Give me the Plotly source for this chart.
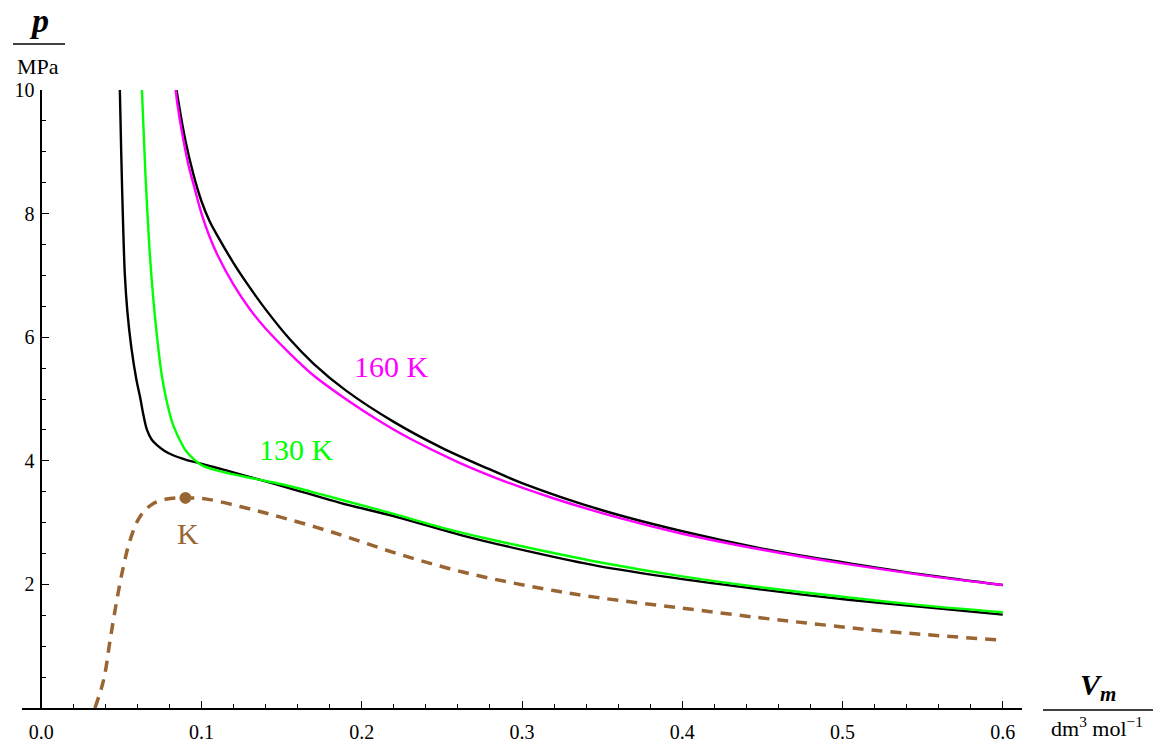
import plotly.graph_objects as go

# Nitrogen isotherms, p in MPa vs molar volume in dm^3/mol
# measured isotherm at 130 K (black)
v_real_130 = [0.0488, 0.0499, 0.0509, 0.0522, 0.0538, 0.0562, 0.0594, 0.0617, 0.0637, 0.0660,
              0.0690, 0.0724, 0.0770, 0.0823, 0.0900, 0.0973, 0.1060, 0.1160, 0.1300, 0.1450,
              0.1650, 0.1865, 0.2220, 0.2630, 0.3050, 0.3470, 0.3990, 0.4485, 0.4900, 0.5310,
              0.6000]
p_real_130 = [10.30, 9.00, 8.00, 7.00, 6.40, 5.84, 5.31, 5.03, 4.75, 4.50,
              4.34, 4.25, 4.16, 4.09, 4.02, 3.97, 3.91, 3.84, 3.74, 3.63,
              3.48, 3.32, 3.09, 2.79, 2.53, 2.30, 2.09, 1.92, 1.79, 1.68,
              1.51]

# measured isotherm at 160 K (black)
v_real_160 = [0.0830, 0.0860, 0.0900, 0.0950, 0.1000, 0.1050, 0.1100, 0.1200, 0.1300, 0.1400,
              0.1550, 0.1700, 0.1900, 0.2200, 0.2500, 0.2800, 0.3000, 0.3500, 0.4000, 0.4500,
              0.5000, 0.5500, 0.6000]
p_real_160 = [10.25, 9.75, 9.18, 8.63, 8.20, 7.88, 7.64, 7.20, 6.81, 6.45,
              5.97, 5.57, 5.14, 4.63, 4.21, 3.86, 3.64, 3.20, 2.86, 2.58,
              2.36, 2.16, 1.99]

# van der Waals isotherm at 130 K (green)
v_vdw_130 = [0.0625, 0.0650, 0.0675, 0.0700, 0.0725, 0.0750, 0.0780, 0.0820, 0.0860, 0.0900,
             0.0950, 0.1000, 0.1100, 0.1200, 0.1350, 0.1500, 0.1700, 0.1900, 0.2200, 0.2500,
             0.2800, 0.3100, 0.3500, 0.4000, 0.4500, 0.5000, 0.5500, 0.6000]
p_vdw_130 = [10.20, 8.65, 7.45, 6.60, 5.95, 5.42, 5.00, 4.60, 4.36, 4.17,
             4.03, 3.93, 3.84, 3.78, 3.70, 3.62, 3.49, 3.35, 3.14, 2.92,
             2.73, 2.56, 2.35, 2.13, 1.95, 1.80, 1.66, 1.55]

# van der Waals isotherm at 160 K (magenta)
v_vdw_160 = [0.0825, 0.0850, 0.0880, 0.0920, 0.0960, 0.1000, 0.1050, 0.1100, 0.1200, 0.1300,
             0.1400, 0.1550, 0.1700, 0.1900, 0.2100, 0.2300, 0.2600, 0.2900, 0.3200, 0.3600,
             0.4000, 0.4500, 0.5000, 0.5500, 0.6000]
p_vdw_160 = [10.30, 9.77, 9.29, 8.77, 8.38, 8.00, 7.63, 7.33, 6.85, 6.46,
             6.14, 5.74, 5.38, 5.00, 4.66, 4.36, 3.98, 3.66, 3.39, 3.08,
             2.82, 2.56, 2.34, 2.15, 1.99]

# liquid-vapour coexistence curve (dashed)
v_coex = [0.0335, 0.0389, 0.0430, 0.0472, 0.0513, 0.0555, 0.0617, 0.0700, 0.0805, 0.0900,
          0.1033, 0.1240, 0.1450, 0.1823, 0.2220, 0.2630, 0.3050, 0.3466, 0.3986, 0.4485,
          0.4900, 0.5316, 0.5980]
p_coex = [0.00, 0.45, 1.10, 1.75, 2.29, 2.72, 3.10, 3.31, 3.39, 3.40,
          3.38, 3.26, 3.12, 2.84, 2.50, 2.20, 1.97, 1.79, 1.62, 1.46,
          1.34, 1.23, 1.10]

# critical point
v_crit = [0.09]
p_crit = [3.40]

x_ticks = [0.0, 0.1, 0.2, 0.3, 0.4, 0.5, 0.6]
y_ticks = [2, 4, 6, 8, 10]

BROWN = "#996633"
SERIF = "'Liberation Serif', 'Times New Roman', Times, serif"

X_MIN, X_MAX = -0.012, 0.612
Y_MIN, Y_MAX = 0, 10

fig = go.Figure()

for vs, ps in [(v_real_130, p_real_130), (v_real_160, p_real_160)]:
    fig.add_trace(go.Scatter(x=vs, y=ps, mode="lines",
                             line=dict(color="black", width=2.4, shape="spline", smoothing=1.0),
                             hoverinfo="skip", showlegend=False))

fig.add_trace(go.Scatter(x=v_vdw_130, y=p_vdw_130, mode="lines",
                         line=dict(color="#00ff00", width=2.4, shape="spline", smoothing=0.8),
                         showlegend=False))
fig.add_trace(go.Scatter(x=v_vdw_160, y=p_vdw_160, mode="lines",
                         line=dict(color="#ff00ff", width=2.4, shape="spline", smoothing=0.8),
                         showlegend=False))
fig.add_trace(go.Scatter(x=v_coex, y=p_coex, mode="lines",
                         line=dict(color=BROWN, width=3.5, dash="11px,8px", shape="spline", smoothing=1.0),
                         showlegend=False))
fig.add_trace(go.Scatter(x=v_crit, y=p_crit, mode="markers",
                         marker=dict(color=BROWN, size=12), showlegend=False))

labels = [
    (0.2183, 5.52, "160 K", "#ff00ff"),
    (0.1590, 4.19, "130 K", "#00ff00"),
    (0.0917, 2.83, "K", BROWN),
]
for x, y, t, c in labels:
    fig.add_annotation(x=x, y=y, xref="x", yref="y", text=t, showarrow=False,
                       font=dict(family=SERIF, size=30, color=c),
                       xanchor="center", yanchor="middle")

ML, MR, MT, MB = 22, 132, 90, 39
W, H = 1154, 747
PW, PH = W - ML - MR, H - MT - MB


def px(xpix):
    return (xpix - ML) / PW


def py(ypix):
    return (H - MB - ypix) / PH


# axis titles written as fractions
fig.add_annotation(x=px(38.5), y=py(41), xref="paper", yref="paper",
                   text="<b><i>p</i></b>", showarrow=False,
                   font=dict(family=SERIF, size=34, color="black"),
                   xanchor="center", yanchor="bottom")
fig.add_shape(type="line", xref="paper", yref="paper",
              x0=px(13), x1=px(65), y0=py(44), y1=py(44),
              line=dict(color="black", width=1.5))
fig.add_annotation(x=px(38), y=py(66), xref="paper", yref="paper",
                   text="MPa", showarrow=False,
                   font=dict(family=SERIF, size=22, color="black"),
                   xanchor="center", yanchor="middle")

fig.add_annotation(x=px(1098), y=py(687), xref="paper", yref="paper",
                   text="<b><i>V<sub>m</sub></i></b>", showarrow=False,
                   font=dict(family=SERIF, size=30, color="black"),
                   xanchor="center", yanchor="middle")
fig.add_shape(type="line", xref="paper", yref="paper",
              x0=px(1043), x1=px(1153), y0=py(710), y1=py(710),
              line=dict(color="black", width=1.5))
fig.add_annotation(x=px(1097), y=py(727), xref="paper", yref="paper",
                   text="dm<sup>3</sup> mol<sup>−1</sup>", showarrow=False,
                   font=dict(family=SERIF, size=22, color="black"),
                   xanchor="center", yanchor="middle")

fig.update_layout(
    width=W, height=H,
    margin=dict(l=ML, r=MR, t=MT, b=MB, pad=0),
    paper_bgcolor="white", plot_bgcolor="white",
    showlegend=False,
    font=dict(family=SERIF, color="black"),
    xaxis=dict(range=[X_MIN, X_MAX], showgrid=False, zeroline=False, automargin=False,
               showline=True, linecolor="black", linewidth=1.5,
               ticks="inside", ticklen=7, tickwidth=1.2, tickcolor="black",
               tickvals=x_ticks, ticktext=[f"{v:.1f}" for v in x_ticks],
               ticklabelstandoff=5,
               tickfont=dict(family=SERIF, size=20, color="black"),
               minor=dict(dtick=0.02, tick0=0, ticks="inside", ticklen=4,
                          tickwidth=1.2, tickcolor="black", showgrid=False)),
    yaxis=dict(range=[Y_MIN, Y_MAX], showgrid=False, zeroline=False, automargin=False,
               anchor="free", position=(0 - X_MIN) / (X_MAX - X_MIN),
               showline=True, linecolor="black", linewidth=1.5,
               ticks="inside", ticklen=7, tickwidth=1.2, tickcolor="black",
               tickvals=y_ticks, ticktext=[str(v) for v in y_ticks],
               ticklabelstandoff=2,
               tickfont=dict(family=SERIF, size=20, color="black"),
               minor=dict(dtick=0.5, tick0=0, ticks="inside", ticklen=4,
                          tickwidth=1.2, tickcolor="black", showgrid=False)),
)

fig.write_html("out.html")
